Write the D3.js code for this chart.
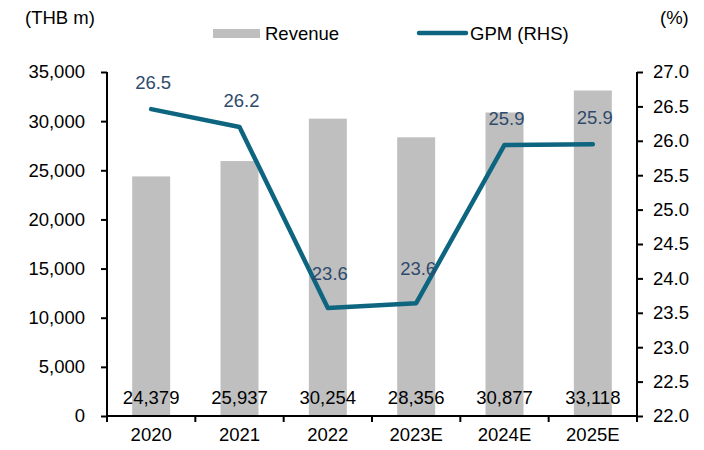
<!DOCTYPE html>
<html>
<head>
<meta charset="utf-8">
<script src="https://cdn.jsdelivr.net/npm/d3@7"></script>
<style>
  body { margin: 0; background: #fff; }
  svg { display: block; font-family: "Liberation Sans", Arial, sans-serif; }
</style>
</head>
<body>
<div id="chart-area"></div>
<script>
// data
var years = ["2020", "2021", "2022", "2023E", "2024E", "2025E"];
var revenue = [24379, 25937, 30254, 28356, 30877, 33118];
var gpm = [26.46, 26.2, 23.57, 23.64, 25.94, 25.95];
var gpmLabels = ["26.5", "26.2", "23.6", "23.6", "25.9", "25.9"];
var leftTicks = [0, 5000, 10000, 15000, 20000, 25000, 30000, 35000];
var rightTicks = [22.0, 22.5, 23.0, 23.5, 24.0, 24.5, 25.0, 25.5, 26.0, 26.5, 27.0];

var W = 704, H = 450;
var margin = {left: 107, right: 67, top: 72, bottom: 34};
var width = W - margin.left - margin.right;
var height = H - margin.top - margin.bottom;
var fs = "18.5px";
var barColor = "#bfbfbf", lineColor = "#0e6580", labColor = "#2f4a6c";

var svg = d3.select("#chart-area").append("svg")
    .attr("width", W)
    .attr("height", H);

var g = svg.append("g")
    .attr("transform", "translate(" + margin.left + "," + margin.top + ")");

var x = d3.scaleBand()
    .domain(years)
    .range([0, width])
    .paddingInner(0.57)
    .paddingOuter(0.285);

var xc = d3.scaleBand().domain(years).range([0, width]);

var y = d3.scaleLinear().domain([0, 35000]).range([height, 0]);
var y2 = d3.scaleLinear().domain([22, 27]).range([height, 0]);

// bars
g.selectAll("rect.bar")
    .data(revenue)
    .enter().append("rect")
    .attr("class", "bar")
    .attr("x", (d, i) => x(years[i]))
    .attr("width", x.bandwidth())
    .attr("y", d => y(d))
    .attr("height", d => height - y(d))
    .attr("fill", barColor);

// bar values near base
g.selectAll("text.val")
    .data(revenue)
    .enter().append("text")
    .attr("class", "val")
    .attr("x", (d, i) => xc(years[i]) + xc.bandwidth() / 2)
    .attr("y", height - 12)
    .attr("text-anchor", "middle")
    .attr("font-size", fs)
    .attr("fill", "#000")
    .text(d => d3.format(",")(d));

// left axis
var leftAxis = d3.axisLeft(y).tickValues(leftTicks).tickSize(6).tickPadding(16)
    .tickFormat(d3.format(","));
var la = g.append("g").call(leftAxis);
la.selectAll("text").attr("font-size", fs).attr("fill", "#000").attr("font-family", null);
la.selectAll("line").attr("stroke", "#000").attr("stroke-width", 2);
la.select(".domain").attr("d", "M0,0V" + height).attr("stroke", "#000").attr("stroke-width", 2);

// right axis
var rightAxis = d3.axisRight(y2).tickValues(rightTicks).tickSize(6).tickPadding(10)
    .tickFormat(d3.format(".1f"));
var ra = g.append("g").attr("transform", "translate(" + width + ",0)").call(rightAxis);
ra.selectAll("text").attr("font-size", fs).attr("fill", "#000").attr("font-family", null);
ra.selectAll("line").attr("stroke", "#000").attr("stroke-width", 2);
ra.select(".domain").attr("d", "M0,0V" + height).attr("stroke", "#000").attr("stroke-width", 2);

// bottom axis
var bottomAxis = d3.axisBottom(xc).tickSize(0).tickPadding(12);
var ba = g.append("g").attr("transform", "translate(0," + height + ")").call(bottomAxis);
ba.selectAll("text").attr("font-size", fs).attr("fill", "#000").attr("font-family", null);
ba.select(".domain").attr("d", "M0,0H" + width).attr("stroke", "#000").attr("stroke-width", 2);
// category boundary ticks
g.selectAll("line.xt")
    .data(d3.range(years.length + 1))
    .enter().append("line")
    .attr("class", "xt")
    .attr("x1", i => i * xc.step()).attr("x2", i => i * xc.step())
    .attr("y1", height).attr("y2", height + 6)
    .attr("stroke", "#000").attr("stroke-width", 2);

// GPM line
var line = d3.line()
    .x((d, i) => xc(years[i]) + xc.bandwidth() / 2)
    .y(d => y2(d));

g.append("path")
    .datum(gpm)
    .attr("d", line)
    .attr("fill", "none")
    .attr("stroke", lineColor)
    .attr("stroke-width", 4.5)
    .attr("stroke-linecap", "round")
    .attr("stroke-linejoin", "round");

g.selectAll("text.gpm")
    .data(gpm)
    .enter().append("text")
    .attr("class", "gpm")
    .attr("x", (d, i) => xc(years[i]) + xc.bandwidth() / 2 + 2)
    .attr("y", (d, i) => y2(d) - (d < 24 ? 28 : 20))
    .attr("text-anchor", "middle")
    .attr("font-size", fs)
    .attr("fill", labColor)
    .text((d, i) => gpmLabels[i]);

// axis titles
svg.append("text").attr("x", 25).attr("y", 24)
    .attr("font-size", fs).text("(THB m)");
svg.append("text").attr("x", 660).attr("y", 24)
    .attr("font-size", fs).text("(%)");

// legend
svg.append("rect").attr("x", 213).attr("y", 29).attr("width", 47).attr("height", 9)
    .attr("fill", barColor);
svg.append("text").attr("x", 265).attr("y", 40).attr("font-size", fs).text("Revenue");
svg.append("line").attr("x1", 419).attr("x2", 466).attr("y1", 33).attr("y2", 33)
    .attr("stroke", lineColor).attr("stroke-width", 4.5).attr("stroke-linecap", "round");
svg.append("text").attr("x", 470).attr("y", 40).attr("font-size", fs).text("GPM (RHS)");
</script>
</body>
</html>
